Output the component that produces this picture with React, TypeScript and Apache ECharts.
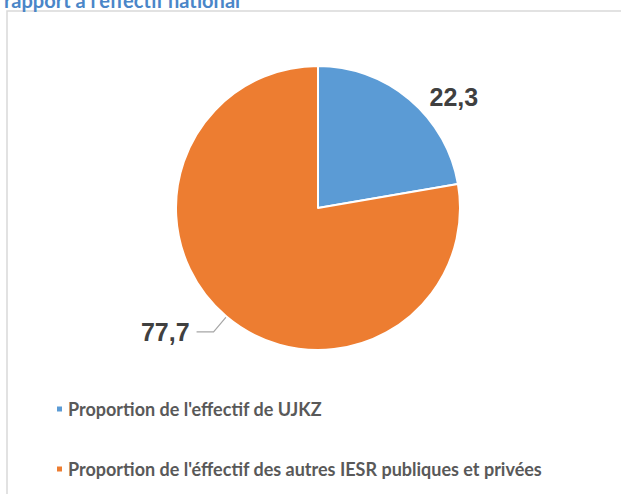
import React, { useEffect, useRef } from "react";
import * as echarts from "echarts";

const categories = [
  "Proportion de l'effectif de UJKZ",
  "Proportion de l'éffectif des autres IESR publiques et privées",
];
const values = [22.3, 77.7];
const colors = ["#5B9BD5", "#ED7D31"];
const titleText = "rapport à l'effectif national";

export default function App() {
  const ref = useRef<HTMLDivElement>(null);
  useEffect(() => {
    if (!ref.current) return;
    const chart = echarts.init(ref.current, null, { renderer: "svg" });
    chart.setOption({
      animation: false,
      backgroundColor: "#ffffff",
      graphic: [
        {
          type: "rect",
          shape: { x: 7, y: 11, width: 640, height: 520 },
          style: { fill: "none", stroke: "#D9D9D9", lineWidth: 1.5 },
          silent: true,
        },
        {
          type: "text",
          x: 4,
          y: 10,
          style: {
            text: titleText,
            fill: "#4A86C8",
            font: "bold 20px Lato, 'Open Sans', sans-serif",
            textVerticalAlign: "bottom",
          },
        },
      ],
      legend: {
        orient: "vertical",
        left: 50,
        top: 393,
        icon: "rect",
        itemWidth: 7,
        itemHeight: 7,
        itemGap: 38,
        selectedMode: false,
        textStyle: {
          color: "#595959",
          fontFamily: "Lato, 'Open Sans', sans-serif",
          fontWeight: "bold",
          fontSize: 18,
          lineHeight: 22,
        },
        data: categories,
      },
      series: [
        {
          type: "pie",
          center: [318, 208],
          radius: 142,
          startAngle: 90,
          clockwise: true,
          avoidLabelOverlap: false,
          itemStyle: { borderColor: "#ffffff", borderWidth: 2 },
          label: {
            show: true,
            position: "outside",
            formatter: (p: any) => String(p.value).replace(".", ","),
            color: "#404040",
            fontFamily: "'Liberation Sans', Arial, sans-serif",
            fontWeight: "bold",
            fontSize: 25,
          },
          labelLine: {
            lineStyle: { color: "#A6A6A6", width: 1.2 },
          },
          data: categories.map((name, i) => ({
            name,
            value: values[i],
            itemStyle: { color: colors[i] },
            labelLine:
              i === 0
                ? { show: false, length: 3, length2: 13 }
                : { show: true, length: 20, length2: 17 },
            label: i === 0 ? { distanceToLabelLine: 5 } : { distanceToLabelLine: 7 },
          })),
        },
      ],
    });
    return () => chart.dispose();
  }, []);
  return (
    <div
      ref={ref}
      style={{ position: "fixed", left: 0, top: 0, width: 621, height: 494 }}
    />
  );
}
